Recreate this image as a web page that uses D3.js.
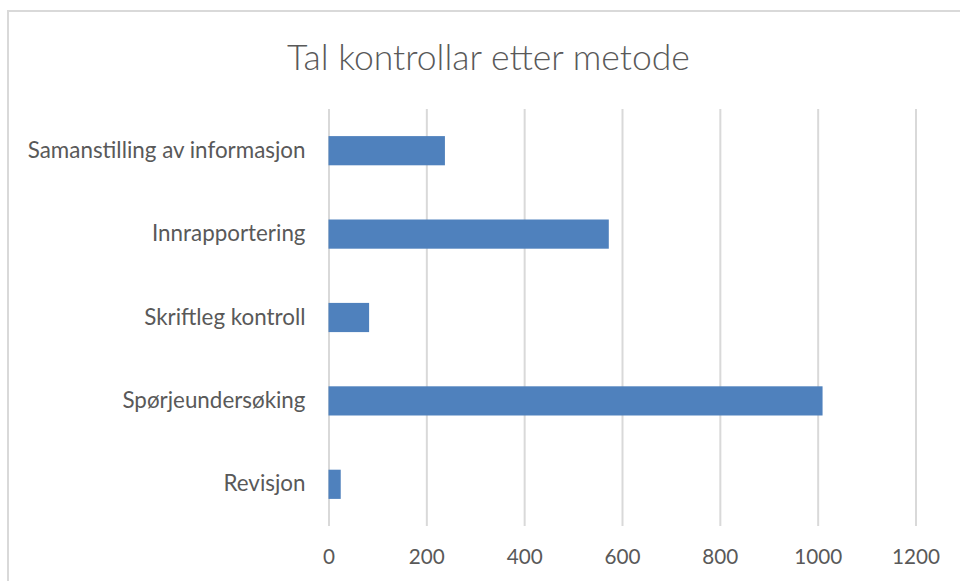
<!DOCTYPE html>
<html>
<head>
<meta charset="utf-8">
<script src="https://cdn.jsdelivr.net/npm/d3@7"></script>
<style>
  html, body { margin: 0; padding: 0; background: #fff; }
  svg { display: block; }
</style>
</head>
<body>
<svg id="chart" width="960" height="581"></svg>
<script>
const categories = ["Samanstilling av informasjon", "Innrapportering", "Skriftleg kontroll", "Spørjeundersøking", "Revisjon"];
const values = [238, 573, 83, 1010, 25];
const tickValues = [0, 200, 400, 600, 800, 1000, 1200];
const title = "Tal kontrollar etter metode";

const svg = d3.select("#chart");
const font = "Lato, 'Open Sans', sans-serif";
const textColor = "#595959";

// fit a font size so that a text reaches a target width
function fitSize(str, target, weight) {
  const t = svg.append("text").style("font-family", font).style("font-size", "20px")
    .style("font-weight", weight || 400).text(str);
  const w = t.node().getComputedTextLength();
  t.remove();
  return 20 * target / w;
}
const labelSize = fitSize(categories[0], 278);
const tickSize = fitSize("1200", 48);
const titleSize = fitSize(title, 403, 300);

// chart border
svg.append("rect")
  .attr("x", 8).attr("y", 11)
  .attr("width", 980).attr("height", 600)
  .attr("fill", "#fff")
  .attr("stroke", "#d9d9d9").attr("stroke-width", 2);

const x = d3.scaleLinear().domain([0, 1200]).range([328.5, 915.5]);
const y = d3.scaleBand().domain(categories).range([109, 526]).paddingInner(0.65).paddingOuter(0.325);

// gridlines
const xAxis = d3.axisBottom(x).tickValues(tickValues).tickSize(-(526 - 109)).tickFormat(d => d);
const gx = svg.append("g").attr("transform", "translate(0,526)").call(xAxis);
gx.select(".domain").remove();
gx.selectAll(".tick line").attr("stroke", "#d9d9d9").attr("stroke-width", 2);
gx.selectAll(".tick text")
  .attr("y", 31).attr("dy", "0.35em")
  .attr("fill", textColor)
  .style("font-family", font).style("font-size", tickSize + "px");

// bars
svg.append("g").selectAll("rect")
  .data(categories)
  .join("rect")
  .attr("x", x(0))
  .attr("y", d => y(d))
  .attr("width", (d, i) => x(values[i]) - x(0))
  .attr("height", y.bandwidth())
  .attr("fill", "#4f81bd");

// category axis
const yAxis = d3.axisLeft(y).tickSize(0).tickPadding(23);
const gy = svg.append("g").attr("transform", `translate(${x(0)},0)`).call(yAxis);
gy.select(".domain").remove();
gy.selectAll(".tick text")
  .attr("fill", textColor)
  .style("font-family", font).style("font-size", labelSize + "px");

// title
svg.append("text")
  .attr("x", 488.5).attr("y", 56)
  .attr("text-anchor", "middle").attr("dominant-baseline", "central")
  .attr("fill", textColor)
  .style("font-family", font).style("font-size", titleSize + "px").style("font-weight", 300)
  .text(title);
</script>
</body>
</html>
